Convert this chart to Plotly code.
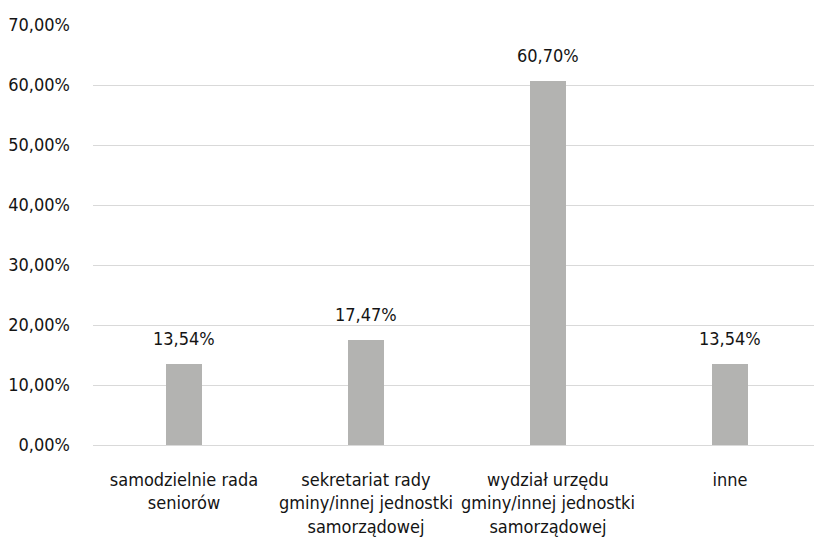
import plotly.graph_objects as go

# Who handles the administrative service of the seniors' council
categories = [
    "samodzielnie rada<br>seniorów",
    "sekretariat rady<br>gminy/innej jednostki<br>samorządowej",
    "wydział urzędu<br>gminy/innej jednostki<br>samorządowej",
    "inne",
]
shares = [13.54, 17.47, 60.70, 13.54]
y_ticks = [0, 10, 20, 30, 40, 50, 60, 70]


def pct(v):
    return f"{v:.2f}%".replace(".", ",")


y_tick_labels = [pct(v) for v in y_ticks]

FONT = "DejaVu Sans Condensed"
TEXT = "#141414"
num_font = dict(family=FONT, size=18, color=TEXT)
cat_font = dict(family=FONT, size=18, color=TEXT)

xs = list(range(len(categories)))

fig = go.Figure(
    go.Bar(
        x=xs,
        y=shares,
        width=0.2,
        marker=dict(color="#b3b3b1", line=dict(width=0)),
        hoverinfo="skip",
    )
)

# value labels sitting above each bar
for x, v in zip(xs, shares):
    fig.add_annotation(
        x=x, y=v, text=pct(v), showarrow=False,
        yanchor="bottom", yshift=13, font=num_font,
    )

fig.update_layout(
    width=814,
    height=540,
    margin=dict(l=93, r=0, t=25, b=95),
    paper_bgcolor="white",
    plot_bgcolor="white",
    showlegend=False,
    bargap=0,
    font=dict(family=FONT, size=18, color=TEXT),
    xaxis=dict(
        tickmode="array",
        tickvals=xs,
        ticktext=categories,
        range=[-0.5, 3.462],
        showgrid=False,
        zeroline=False,
        showline=False,
        ticks="",
        ticklabelstandoff=22,
        tickfont=cat_font,
    ),
    yaxis=dict(
        range=[0, 70],
        tickmode="array",
        tickvals=y_ticks,
        ticktext=y_tick_labels,
        showgrid=True,
        gridcolor="#d9d9d9",
        gridwidth=1,
        zeroline=True,
        zerolinecolor="#d9d9d9",
        zerolinewidth=1,
        showline=False,
        ticks="",
        ticklabelstandoff=22,
        tickfont=num_font,
    ),
)

fig.write_html("out.html")
